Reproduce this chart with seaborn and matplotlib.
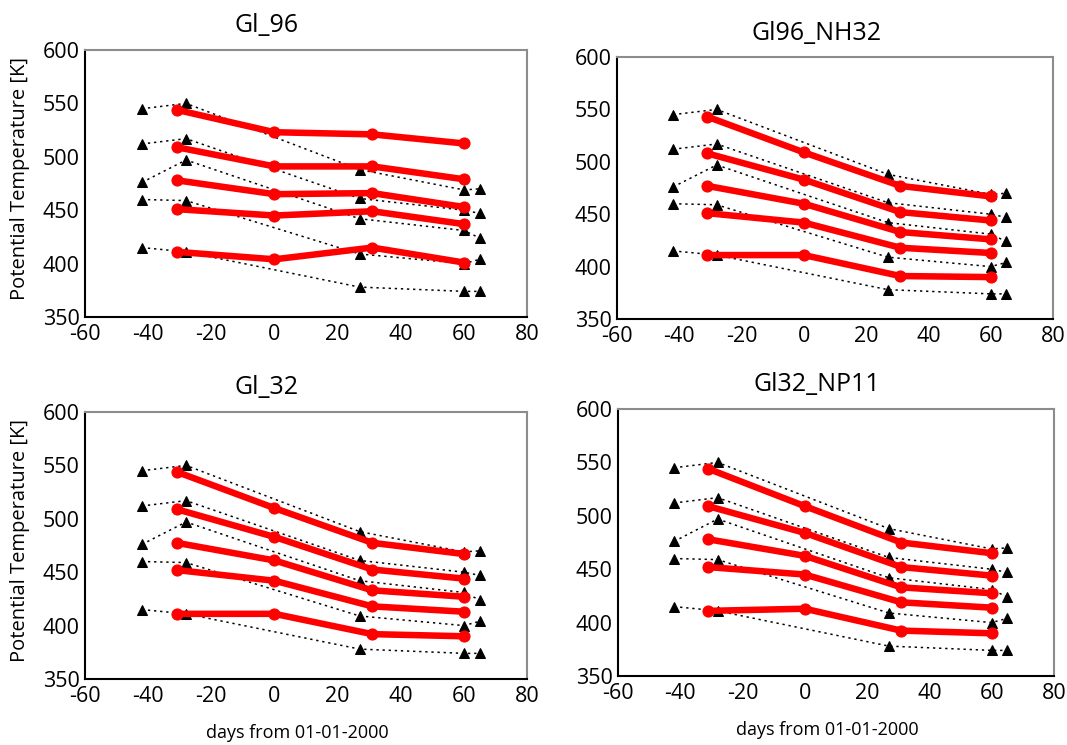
import numpy as np
import pandas as pd
import matplotlib
matplotlib.use("Agg")
import matplotlib.pyplot as plt
import seaborn as sns

# observation days (triangles) and model output days (red circles)
obs_days = [-42, -28, 27, 60, 65]
model_days = [-31, 0, 31, 60]

# observed potential temperature, one list per level (top to bottom)
obs_1 = [545, 550, 488, 469, 470]
obs_2 = [512, 517, 461, 450, 447]
obs_3 = [476, 497, 442, 431, 424]
obs_4 = [460, 459, 409, 400, 404]
obs_5 = [415, 411, 378, 374, 374]

# model runs
gl96 = [
    [544, 523, 521, 512.5],
    [509, 491, 491, 479],
    [478, 465, 466, 453],
    [451, 445, 449, 437],
    [411, 404, 415, 401],
]
gl96_nh32 = [
    [543, 509, 477, 467],
    [508, 483, 452, 444],
    [477, 460, 433, 426],
    [451, 442, 418, 413],
    [411, 411, 391, 390],
]
gl32 = [
    [544, 510, 477.5, 467],
    [509, 483, 452.5, 444],
    [477.5, 461, 433, 427],
    [452, 442, 418, 413],
    [411, 411, 392, 390],
]
gl32_np11 = [
    [544, 509, 475, 465],
    [509, 484, 452, 444],
    [478, 462.5, 433, 427.5],
    [452, 445, 419, 414],
    [411, 413, 392.5, 390],
]

run_names = ["Gl_96", "Gl96_NH32", "Gl_32", "Gl32_NP11"]
runs = [gl96, gl96_nh32, gl32, gl32_np11]
obs_levels = [obs_1, obs_2, obs_3, obs_4, obs_5]

x_ticks = [-60, -40, -20, 0, 20, 40, 60, 80]
y_ticks = [350, 400, 450, 500, 550, 600]


def to_long(days, levels):
    rows = []
    for i, vals in enumerate(levels):
        for d, v in zip(days, vals):
            rows.append({"day": d, "theta": v, "level": i})
    return pd.DataFrame(rows)


sns.set_style("white")
plt.rcParams["font.family"] = ["Open Sans", "DejaVu Sans"]
plt.rcParams["axes.unicode_minus"] = False
plt.rcParams["text.color"] = "black"
plt.rcParams["axes.labelcolor"] = "black"

fig = plt.figure(figsize=(10.67, 7.45), dpi=100)

# axes boxes [left, bottom, width, height] and title x position
boxes = [
    [0.0797, 0.5745, 0.4142, 0.3584],
    [0.5783, 0.5718, 0.4085, 0.3517],
    [0.0797, 0.0886, 0.4142, 0.3584],
    [0.5792, 0.0926, 0.4085, 0.3584],
]
title_x = [0.41, 0.458, 0.41, 0.457]

obs_df = to_long(obs_days, obs_levels)

for k, (name, run) in enumerate(zip(run_names, runs)):
    ax = fig.add_axes(boxes[k])
    model_df = to_long(model_days, run)

    sns.lineplot(data=obs_df, x="day", y="theta", units="level", estimator=None,
                 sort=False, color="black", linewidth=1.1, linestyle=(0, (1.5, 2.5)),
                 marker="^", markersize=7.5, markeredgecolor="black", ax=ax, zorder=2)
    sns.lineplot(data=model_df, x="day", y="theta", units="level", estimator=None,
                 sort=False, color="#ff0000", linewidth=4.7, marker="o",
                 markersize=8, markeredgecolor="#ff0000", ax=ax, zorder=3)

    ax.set_xlim(-60, 80)
    ax.set_ylim(350, 600)
    ax.set_xticks(x_ticks)
    ax.set_yticks(y_ticks)
    ax.tick_params(axis="both", direction="out", length=3, width=1, labelsize=15.5,
                   pad=1, colors="black")
    ax.tick_params(axis="x", pad=2)
    for side in ["left", "bottom"]:
        ax.spines[side].set_color("black")
        ax.spines[side].set_linewidth(1.5)
    for side in ["top", "right"]:
        ax.spines[side].set_color("#8c8c8c")
        ax.spines[side].set_linewidth(1.5)

    ax.text(title_x[k], 1.09, name, transform=ax.transAxes, ha="center",
            va="center", fontsize=18, color="black")

    if k >= 2:
        ax.set_xlabel("days from 01-01-2000", fontsize=13)
        ax.xaxis.set_label_coords(0.48, -0.17)
    else:
        ax.set_xlabel("")
    if k % 2 == 0:
        ax.set_ylabel("Potential Temperature [K]", fontsize=14.5)
        ax.yaxis.set_label_coords(-0.125, 0.52)
    else:
        ax.set_ylabel("")

fig.savefig("out.png", dpi=100)
